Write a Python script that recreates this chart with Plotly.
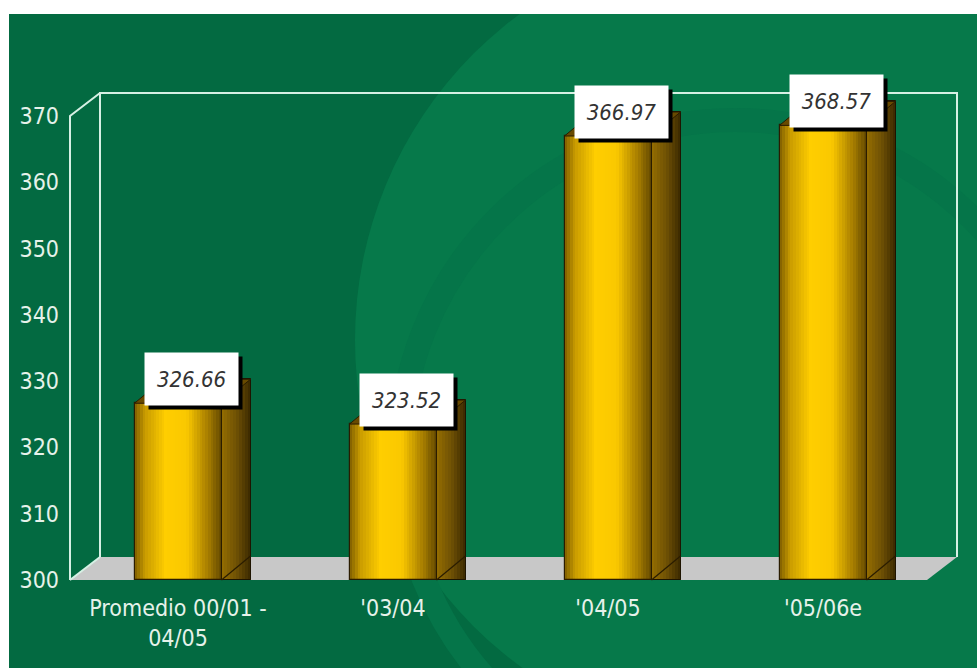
import plotly.graph_objects as go

# ---------------- data ----------------
categories = ["Promedio 00/01 -<br>04/05", "'03/04", "'04/05", "'05/06e"]
values = [326.66, 323.52, 366.97, 368.57]
value_labels = ["326.66", "323.52", "366.97", "368.57"]
y_ticks = [300, 310, 320, 330, 340, 350, 360, 370]

# ---------------- geometry / style constants ----------------
W, H = 977, 668
PL, PR, PT, PB = 66, 960, 90, 582          # plot area in pixels
PX_PER_CAT = 215.0
PX_PER_UNIT = 6.63
X_CENTER0 = 178.0                          # pixel of first category
Y_BASE_PX = 580.0                          # pixel of value 300

def px2x(px):
    return (px - X_CENTER0) / PX_PER_CAT

def px2y(py):
    return 300 + (Y_BASE_PX - py) / PX_PER_UNIT

def px2paper(px, py):
    return (px - PL) / (PR - PL), (PB - py) / (PB - PT)

XR = [px2x(PL), px2x(PR)]
YR = [px2y(PB), px2y(PT)]

BW = 87 / PX_PER_CAT          # front face width
DX = 29 / PX_PER_CAT          # bar depth (x)
DY = 24 / PX_PER_UNIT         # bar depth (y)
FDX = 30 / PX_PER_CAT         # frame depth
FDY = 23 / PX_PER_UNIT
FX0 = px2x(70)                # front-left edge of frame
FX1 = px2x(957)               # back-right edge of frame
FTOP = px2y(93)

FONT = "DejaVu Sans Condensed, Liberation Sans Narrow, Arial Narrow, sans-serif"
TXT = "#E6F2EA"
GREEN_DARK = "#036A41"
GREEN_LIGHT = "#06794A"
BASE = 300

xs = list(range(len(categories)))

def lerp_color(stops, t):
    for (t0, c0), (t1, c1) in zip(stops, stops[1:]):
        if t0 <= t <= t1:
            f = (t - t0) / (t1 - t0) if t1 > t0 else 0
            c = [int(round(c0[k] + (c1[k] - c0[k]) * f)) for k in range(3)]
            return "rgb(%d,%d,%d)" % tuple(c)
    c = stops[-1][1]
    return "rgb(%d,%d,%d)" % tuple(c)

front_stops = [(0.0, (125, 92, 0)), (0.12, (200, 155, 0)), (0.36, (255, 206, 0)),
               (0.60, (250, 200, 0)), (0.84, (168, 126, 0)), (1.0, (100, 74, 0))]
side_stops = [(0.0, (150, 110, 0)), (0.5, (112, 82, 5)), (1.0, (58, 40, 0))]

fig = go.Figure()

# side faces (gradient strips)
NS = 10
for i in range(NS):
    w = DX / NS
    fig.add_trace(go.Bar(
        x=xs, y=[v + DY - BASE for v in values], base=BASE,
        width=min(w * 1.6, DX - i * w), offset=BW / 2 + i * w,
        marker=dict(color=lerp_color(side_stops, (i + 0.5) / NS), line=dict(width=0)),
        hoverinfo="skip", showlegend=False))
fig.add_trace(go.Bar(
    x=xs, y=[v + DY - BASE for v in values], base=BASE,
    width=DX, offset=BW / 2,
    marker=dict(color="rgba(0,0,0,0)", line=dict(color="#1e1400", width=1)),
    hoverinfo="skip", showlegend=False))

# front faces (gradient strips)
NF = 32
for i in range(NF):
    w = BW / NF
    fig.add_trace(go.Bar(
        x=xs, y=[v - BASE for v in values], base=BASE,
        width=min(w * 1.6, BW - i * w), offset=-BW / 2 + i * w,
        marker=dict(color=lerp_color(front_stops, (i + 0.5) / NF), line=dict(width=0)),
        hoverinfo="skip", showlegend=False))
fig.add_trace(go.Bar(
    x=xs, y=[v - BASE for v in values], base=BASE,
    width=BW, offset=-BW / 2,
    marker=dict(color="rgba(0,0,0,0)", line=dict(color="#2a1c00", width=1.2)),
    hoverinfo="skip", showlegend=False))

# top faces
tx, ty = [], []
for c, v in zip(xs, values):
    tx += [c - BW / 2, c + BW / 2, c + BW / 2 + DX, c - BW / 2 + DX, c - BW / 2, None]
    ty += [v, v, v + DY, v + DY, v, None]
fig.add_trace(go.Scatter(x=tx, y=ty, mode="lines", fill="toself",
                         fillcolor="#684A00", line=dict(color="#2a1c00", width=1),
                         hoverinfo="skip", showlegend=False))

# diagonal bottom edge of side faces
dx_, dy_ = [], []
for c in xs:
    dx_ += [c + BW / 2, c + BW / 2 + DX, None]
    dy_ += [BASE, BASE + DY, None]
fig.add_trace(go.Scatter(x=dx_, y=dy_, mode="lines",
                         line=dict(color="#2a1c00", width=1.2),
                         hoverinfo="skip", showlegend=False))

# ---------------- background shapes ----------------
shapes = []
cx0, cy0 = px2paper(355, 745)
cx1, cy1 = px2paper(1165, -65)
shapes.append(dict(type="circle", xref="paper", yref="paper", layer="below",
                   x0=cx0, y0=cy0, x1=cx1, y1=cy1,
                   fillcolor=GREEN_LIGHT, line=dict(width=0)))
rx0, ry0 = px2paper(400, 790)
rx1, ry1 = px2paper(1070, 120)
shapes.append(dict(type="circle", xref="paper", yref="paper", layer="below",
                   x0=rx0, y0=ry0, x1=rx1, y1=ry1,
                   fillcolor="rgba(0,0,0,0)", line=dict(width=24, color="#057549")))
# white strips top / left
sx0, sy0 = px2paper(-20, 14)
sx1, sy1 = px2paper(W + 20, -20)
shapes.append(dict(type="rect", xref="paper", yref="paper", layer="below",
                   x0=sx0, y0=sy0, x1=sx1, y1=sy1, fillcolor="white", line=dict(width=0)))
lx0, ly0 = px2paper(-20, H + 20)
lx1, ly1 = px2paper(9, -20)
shapes.append(dict(type="rect", xref="paper", yref="paper", layer="below",
                   x0=lx0, y0=ly0, x1=lx1, y1=ly1, fillcolor="white", line=dict(width=0)))

# floor
shapes.append(dict(type="path", xref="x", yref="y", layer="below",
                   path=f"M {FX0},{BASE} L {FX1 - FDX},{BASE} L {FX1},{BASE + FDY} L {FX0 + FDX},{BASE + FDY} Z",
                   fillcolor="#C8C8C8", line=dict(width=0)))
LINE = dict(color="#D6F0E4", width=2)
shapes.append(dict(type="path", xref="x", yref="y", layer="below",
                   path=f"M {FX0 + FDX},{BASE + FDY} L {FX0 + FDX},{FTOP} L {FX1},{FTOP} L {FX1},{BASE + FDY}",
                   line=LINE))
shapes.append(dict(type="path", xref="x", yref="y", layer="below",
                   path=f"M {FX0},{BASE} L {FX0},{FTOP - FDY} L {FX0 + FDX},{FTOP}",
                   line=LINE))
shapes.append(dict(type="line", xref="x", yref="y", layer="below",
                   x0=FX0, y0=BASE, x1=FX0 + FDX, y1=BASE + FDY, line=LINE))

# ---------------- value labels ----------------
annotations = []
for c, v, t in zip(xs, values, value_labels):
    ax = c + 13 / PX_PER_CAT
    annotations.append(dict(x=ax, y=v, xref="x", yref="y", text="", showarrow=False,
                            width=93, height=52, bgcolor="black", borderpad=0,
                            xanchor="center", yanchor="bottom", xshift=4, yshift=-7))
    annotations.append(dict(x=ax, y=v, xref="x", yref="y", text="<i>" + t + "</i>",
                            showarrow=False, width=93, height=52, bgcolor="white",
                            borderpad=0, xanchor="center", yanchor="bottom", yshift=-3,
                            font=dict(family=FONT, size=22, color="#333333")))

fig.update_layout(
    width=W, height=H,
    margin=dict(l=PL, r=W - PR, t=PT, b=H - PB, pad=0),
    paper_bgcolor=GREEN_DARK, plot_bgcolor="rgba(0,0,0,0)",
    barmode="overlay", bargap=0, showlegend=False,
    shapes=shapes, annotations=annotations,
    xaxis=dict(range=XR, tickvals=xs, ticktext=categories, showgrid=False,
               zeroline=False, showline=False, ticks="",
               tickfont=dict(family=FONT, size=23, color=TXT), ticklabelstandoff=10),
    yaxis=dict(range=YR, tickvals=y_ticks, showgrid=False, zeroline=False,
               showline=False, ticks="",
               tickfont=dict(family=FONT, size=23, color=TXT), ticklabelstandoff=6),
)

fig.write_html("out.html", config={"displayModeBar": False},
               post_script="document.body.style.margin='0';document.body.style.padding='0';document.body.style.overflow='hidden';")
